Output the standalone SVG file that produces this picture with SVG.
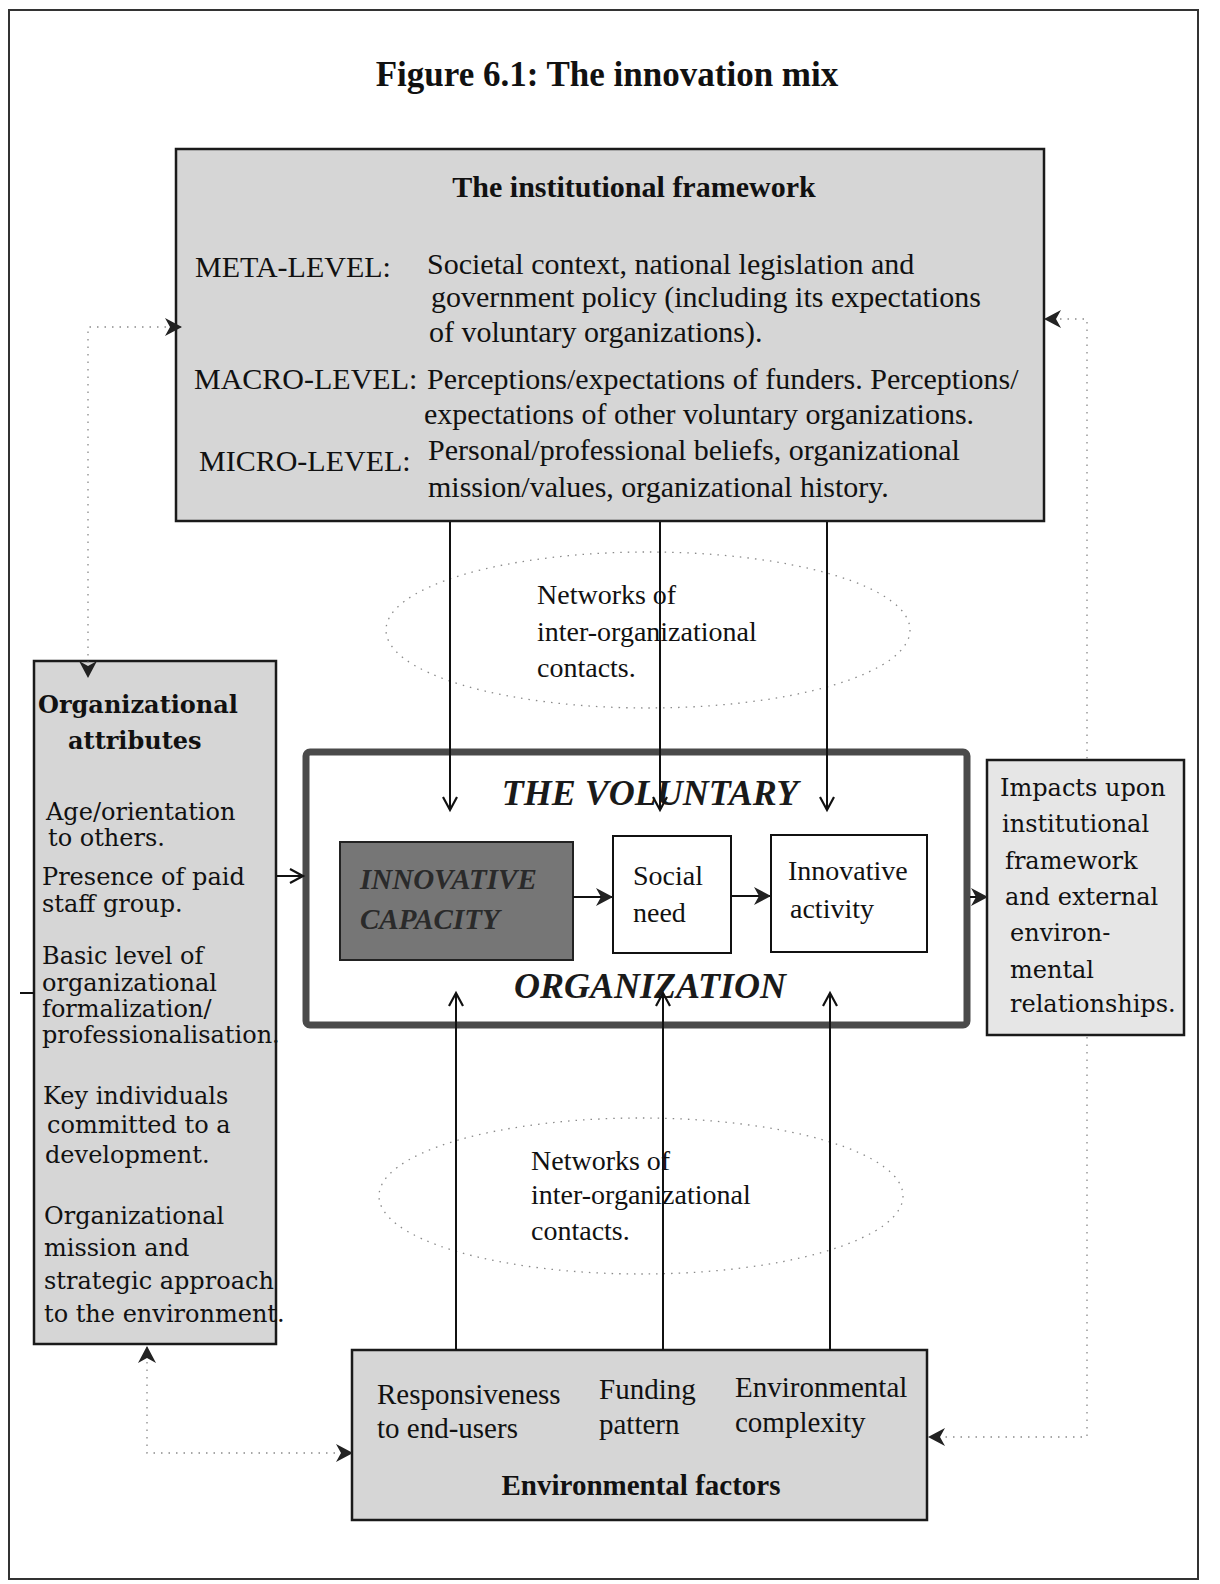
<svg xmlns="http://www.w3.org/2000/svg" width="1220" height="1584" viewBox="0 0 1220 1584">
<style>
.t{font-family:"Liberation Serif","Times New Roman",serif;fill:#111}
.tb{font-family:"Liberation Serif","Times New Roman",serif;font-weight:bold;fill:#111}
.tbi{font-family:"Liberation Serif","Times New Roman",serif;font-weight:bold;font-style:italic;fill:#1a1a1a}
.c{font-family:"DejaVu Serif",serif;fill:#111}
.cb{font-family:"DejaVu Serif",serif;font-weight:bold;fill:#111}
.dot{fill:none;stroke:#8a8a8a;stroke-width:1.3;stroke-dasharray:1.5 6}
.ln{fill:none;stroke:#111;stroke-width:2}
.gbox{fill:#d6d6d6;stroke:#1a1a1a;stroke-width:2.5}
</style>
<defs>
<marker id="chev" markerUnits="userSpaceOnUse" markerWidth="20" markerHeight="20" refX="16" refY="10" orient="auto">
<path d="M3,3 L16,10 L3,17" fill="none" stroke="#111" stroke-width="2.2"/>
</marker>
<marker id="barb" markerUnits="userSpaceOnUse" markerWidth="20" markerHeight="20" refX="17" refY="10" orient="auto-start-reverse">
<path d="M1,1 L18,10 L1,19 L6,10 z" fill="#222"/>
</marker>
</defs>
<rect x="9" y="10" width="1189" height="1569" fill="#fff" stroke="#333" stroke-width="2"/>
<text class="tb" x="607" y="86" font-size="35" text-anchor="middle">Figure 6.1: The innovation mix</text>

<g id="institutional-framework">
<rect class="gbox" x="176" y="149" width="868" height="372"/>
<text class="tb" x="634" y="197" font-size="30" text-anchor="middle">The institutional framework</text>
<text class="t" font-size="30">
<tspan x="195" y="277">META-LEVEL:</tspan>
<tspan x="427" y="274">Societal context, national legislation and</tspan>
<tspan x="431" y="307">government policy (including its expectations</tspan>
<tspan x="429" y="342">of voluntary organizations).</tspan>
<tspan x="194" y="389">MACRO-LEVEL:</tspan>
<tspan x="427" y="389">Perceptions/expectations of funders. Perceptions/</tspan>
<tspan x="424" y="424">expectations of other voluntary organizations.</tspan>
<tspan x="199" y="471">MICRO-LEVEL:</tspan>
<tspan x="428" y="460">Personal/professional beliefs, organizational</tspan>
<tspan x="428" y="497">mission/values, organizational history.</tspan>
</text>
</g>

<g id="networks-top">
<ellipse class="dot" cx="648" cy="630" rx="262" ry="78"/>
<text class="t" font-size="28">
<tspan x="537" y="604">Networks of</tspan>
<tspan x="537" y="641">inter-organizational</tspan>
<tspan x="537" y="677">contacts.</tspan>
</text>
</g>

<g id="organizational-attributes">
<rect class="gbox" x="34" y="661" width="242" height="683" fill="#d2d2d2"/>
<text class="cb" font-size="24">
<tspan x="38" y="713">Organizational</tspan>
<tspan x="68" y="749">attributes</tspan>
</text>
<text class="c" font-size="24">
<tspan x="46" y="820">Age/orientation</tspan>
<tspan x="48" y="846">to others.</tspan>
<tspan x="42" y="885">Presence of paid</tspan>
<tspan x="42" y="912">staff group.</tspan>
<tspan x="42" y="964">Basic level of</tspan>
<tspan x="42" y="991">organizational</tspan>
<tspan x="42" y="1017">formalization/</tspan>
<tspan x="42" y="1043">professionalisation.</tspan>
<tspan x="43" y="1104">Key individuals</tspan>
<tspan x="47" y="1133">committed to a</tspan>
<tspan x="45" y="1163">development.</tspan>
<tspan x="44" y="1224">Organizational</tspan>
<tspan x="44" y="1256">mission and</tspan>
<tspan x="44" y="1289">strategic approach</tspan>
<tspan x="44" y="1322">to the environment.</tspan>
</text>
</g>

<g id="voluntary-organization">
<rect x="306" y="752" width="661" height="273" rx="4" fill="#fff" stroke="#4a4a4a" stroke-width="7"/>
<text class="tbi" x="650" y="805" font-size="36" text-anchor="middle">THE VOLUNTARY</text>
<text class="tbi" x="650" y="998" font-size="36" text-anchor="middle">ORGANIZATION</text>
</g>

<g id="innovative-capacity">
<rect x="340" y="842" width="233" height="118" fill="#767676" stroke="#222" stroke-width="2"/>
<text class="tbi" font-size="29" style="fill:#2a2a2a">
<tspan x="360" y="889">INNOVATIVE</tspan>
<tspan x="360" y="929">CAPACITY</tspan>
</text>
</g>

<g id="social-need">
<rect x="613" y="836" width="118" height="117" fill="#fff" stroke="#111" stroke-width="2"/>
<text class="t" font-size="28">
<tspan x="633" y="885">Social</tspan>
<tspan x="633" y="922">need</tspan>
</text>
</g>

<g id="innovative-activity">
<rect x="771" y="835" width="156" height="117" fill="#fff" stroke="#111" stroke-width="2"/>
<text class="t" font-size="28">
<tspan x="788" y="880">Innovative</tspan>
<tspan x="790" y="918">activity</tspan>
</text>
</g>

<g id="impacts">
<rect x="987" y="760" width="197" height="275" fill="#e6e6e6" stroke="#1a1a1a" stroke-width="2.5"/>
<text class="c" font-size="24">
<tspan x="1000" y="796">Impacts upon</tspan>
<tspan x="1002" y="832">institutional</tspan>
<tspan x="1005" y="869">framework</tspan>
<tspan x="1005" y="905">and external</tspan>
<tspan x="1010" y="941">environ-</tspan>
<tspan x="1010" y="978">mental</tspan>
<tspan x="1010" y="1012">relationships.</tspan>
</text>
</g>

<g id="networks-bottom">
<ellipse class="dot" cx="641" cy="1196" rx="262" ry="78"/>
<text class="t" font-size="28">
<tspan x="531" y="1170">Networks of</tspan>
<tspan x="531" y="1204">inter-organizational</tspan>
<tspan x="531" y="1240">contacts.</tspan>
</text>
</g>

<g id="environmental-factors">
<rect class="gbox" x="352" y="1350" width="575" height="170" fill="#d0d0d0"/>
<text class="t" font-size="29">
<tspan x="377" y="1404">Responsiveness</tspan>
<tspan x="377" y="1438">to end-users</tspan>
<tspan x="599" y="1399">Funding</tspan>
<tspan x="599" y="1434">pattern</tspan>
<tspan x="735" y="1397">Environmental</tspan>
<tspan x="735" y="1432">complexity</tspan>
</text>
<text class="tb" x="641" y="1495" font-size="29" text-anchor="middle">Environmental factors</text>
</g>

<g id="connectors">
<path class="dot" d="M181 327 H88 V677" marker-start="url(#barb)" marker-end="url(#barb)"/>
<path class="dot" d="M1045 319 H1087 V759 M1087 1037 V1437 H929" marker-start="url(#barb)" marker-end="url(#barb)"/>
<path class="dot" d="M147 1347 V1453 H352" marker-start="url(#barb)" marker-end="url(#barb)"/>
<path class="ln" d="M20 993 H34"/>
<path class="ln" d="M277 876 H303" marker-end="url(#chev)"/>
<path class="ln" d="M970 897 H987" marker-end="url(#barb)"/>
<path class="ln" d="M573 897 H612" marker-end="url(#barb)"/>
<path class="ln" d="M731 896 H770" marker-end="url(#barb)"/>
<path class="ln" d="M450 522 V810" marker-end="url(#chev)"/>
<path class="ln" d="M660 522 V810" marker-end="url(#chev)"/>
<path class="ln" d="M827 522 V810" marker-end="url(#chev)"/>
<path class="ln" d="M456 1350 V993" marker-end="url(#chev)"/>
<path class="ln" d="M663 1350 V993" marker-end="url(#chev)"/>
<path class="ln" d="M830 1350 V993" marker-end="url(#chev)"/>
</g>
</svg>
